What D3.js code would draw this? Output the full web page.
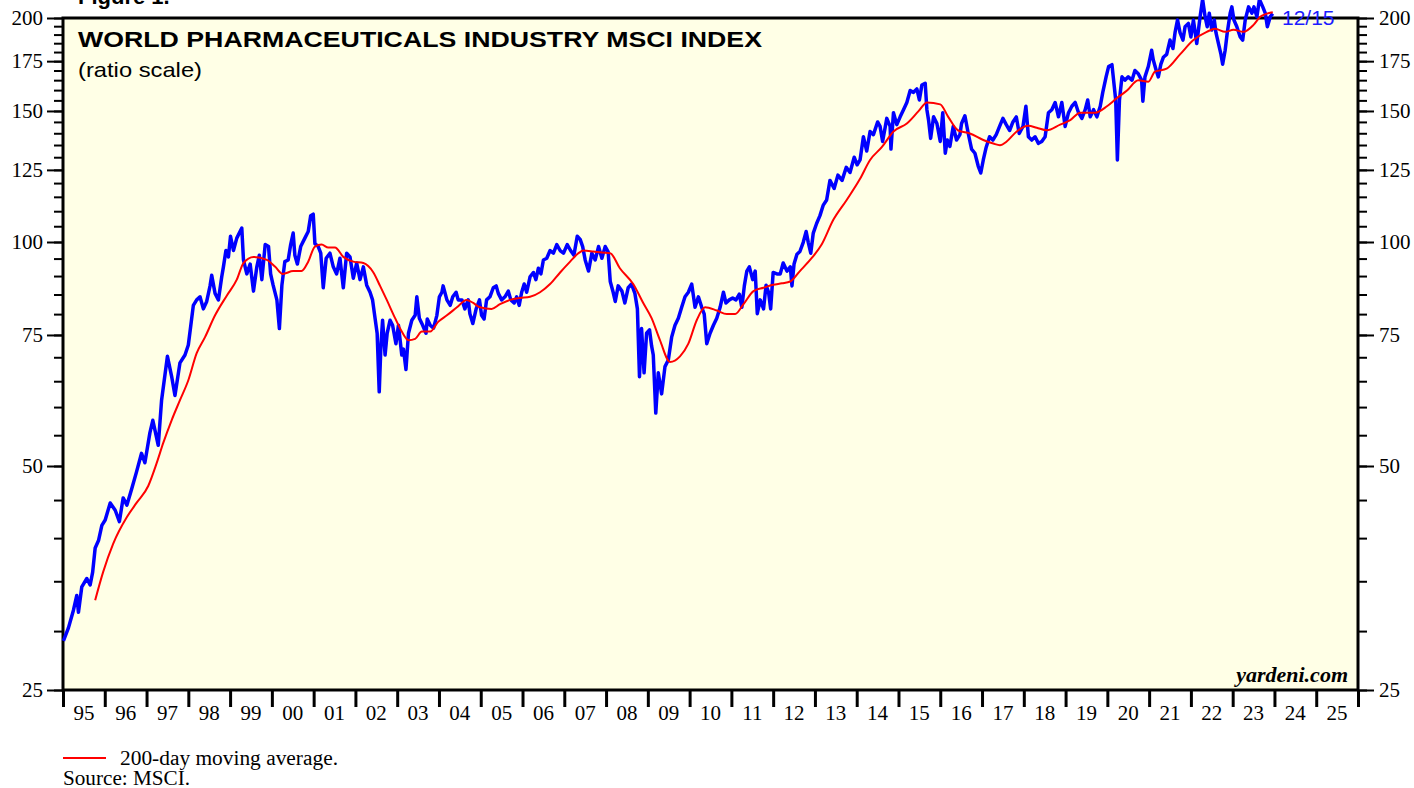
<!DOCTYPE html>
<html>
<head>
<meta charset="utf-8">
<script src="https://cdn.jsdelivr.net/npm/d3@7"></script>
<style>
  body { margin: 0; background: #fff; }
  svg { display: block; }
</style>
</head>
<body>
<div id="chart"></div>
<script>
// MSCI World Pharmaceuticals index (decimal year, value)
var priceDates = [
  1995.01,1995.13,1995.25,1995.33,1995.37,1995.45,1995.57,1995.65,1995.71,1995.77,1995.85,1995.93,
  1996.01,1996.13,1996.25,1996.35,1996.44,1996.53,1996.64,1996.76,1996.88,1996.96,
  1997.08,1997.15,1997.20,1997.28,1997.36,1997.50,1997.60,1997.68,1997.80,1997.92,
  1998.00,1998.06,1998.12,1998.20,1998.28,1998.36,1998.44,1998.52,1998.56,1998.64,1998.72,1998.80,1998.84,1998.90,1998.96,
  1999.01,1999.08,1999.16,1999.28,1999.32,1999.40,1999.48,1999.56,1999.64,1999.70,1999.76,1999.84,1999.92,1999.97,
  2000.03,2000.12,2000.18,2000.24,2000.31,2000.39,2000.45,2000.51,2000.55,2000.61,2000.69,2000.79,2000.87,2000.93,2000.99,
  2001.03,2001.11,2001.17,2001.23,2001.30,2001.39,2001.47,2001.55,2001.63,2001.71,2001.79,2001.87,2001.95,
  2002.03,2002.11,2002.19,2002.27,2002.35,2002.41,2002.47,2002.52,2002.57,2002.61,2002.65,2002.71,2002.76,2002.83,2002.89,2002.97,
  2003.03,2003.11,2003.15,2003.21,2003.27,2003.35,2003.43,2003.47,2003.53,2003.61,2003.69,2003.72,2003.79,2003.87,2003.95,
  2004.01,2004.07,2004.10,2004.19,2004.27,2004.33,2004.41,2004.46,2004.55,2004.62,2004.70,2004.74,2004.81,2004.89,2004.97,
  2005.02,2005.08,2005.14,2005.22,2005.30,2005.37,2005.42,2005.50,2005.58,2005.66,2005.72,2005.80,2005.86,2005.92,2005.98,
  2006.04,2006.10,2006.18,2006.26,2006.32,2006.38,2006.44,2006.50,2006.58,2006.66,2006.74,2006.82,2006.90,2006.98,
  2007.07,2007.15,2007.23,2007.31,2007.38,2007.44,2007.50,2007.58,2007.66,2007.74,2007.82,2007.90,2007.98,
  2008.05,2008.10,2008.17,2008.22,2008.29,2008.38,2008.45,2008.53,2008.61,2008.69,2008.75,2008.80,2008.85,2008.91,2008.97,
  2009.04,2009.09,2009.13,2009.19,2009.25,2009.33,2009.41,2009.49,2009.57,2009.65,2009.73,2009.81,2009.89,2009.97,
  2010.05,2010.13,2010.21,2010.29,2010.35,2010.41,2010.49,2010.57,2010.65,2010.73,2010.81,2010.87,2010.95,
  2011.03,2011.11,2011.19,2011.25,2011.31,2011.37,2011.43,2011.51,2011.57,2011.62,2011.69,2011.77,2011.83,2011.89,2011.94,
  2012.00,2012.09,2012.17,2012.24,2012.33,2012.41,2012.45,2012.50,2012.57,2012.64,2012.72,2012.79,2012.84,2012.90,2012.96,
  2013.04,2013.12,2013.20,2013.28,2013.36,2013.46,2013.55,2013.65,2013.75,2013.84,2013.94,
  2014.01,2014.08,2014.16,2014.24,2014.32,2014.40,2014.50,2014.56,2014.62,2014.72,2014.80,2014.82,2014.88,2014.96,
  2015.04,2015.12,2015.20,2015.28,2015.36,2015.44,2015.50,2015.56,2015.64,2015.68,2015.72,2015.77,2015.84,2015.92,
  2016.00,2016.06,2016.12,2016.17,2016.23,2016.31,2016.39,2016.47,2016.51,2016.59,2016.67,2016.75,2016.83,2016.91,2016.97,
  2017.03,2017.10,2017.18,2017.26,2017.34,2017.42,2017.50,2017.58,2017.66,2017.74,2017.82,2017.89,2017.98,
  2018.05,2018.11,2018.19,2018.27,2018.35,2018.43,2018.51,2018.59,2018.67,2018.75,2018.83,2018.91,2018.99,
  2019.07,2019.15,2019.23,2019.31,2019.39,2019.47,2019.53,2019.59,2019.67,2019.75,2019.83,2019.89,2019.97,
  2020.03,2020.11,2020.20,2020.24,2020.29,2020.35,2020.42,2020.50,2020.59,2020.66,2020.74,2020.82,2020.85,2020.90,2020.98,
  2021.06,2021.10,2021.17,2021.22,2021.28,2021.34,2021.42,2021.50,2021.57,2021.62,2021.68,2021.74,2021.81,2021.86,2021.94,
  2022.00,2022.06,2022.14,2022.22,2022.28,2022.34,2022.39,2022.44,2022.50,2022.56,2022.60,2022.66,2022.72,2022.76,2022.82,2022.87,2022.94,2022.98,
  2023.03,2023.10,2023.18,2023.24,2023.30,2023.38,2023.46,2023.51,2023.58,2023.64,2023.72,2023.78,2023.83,2023.90,2023.96
];
var priceValues = [
  29.1,30.3,32.0,33.5,31.8,34.4,35.3,34.6,36.0,38.8,39.7,41.6,
  42.3,44.6,43.6,42.1,45.3,44.3,46.5,49.1,52.0,50.5,
  55.4,57.6,55.9,53.3,61.3,70.2,66.0,62.2,68.8,70.5,
  72.7,77.3,82.2,83.6,84.4,81.3,83.2,87.3,90.2,85.3,83.6,89.8,92.6,97.4,95.5,
  101.8,97.4,101.2,104.4,94.6,90.6,93.4,85.9,92.6,96.0,89.0,99.2,98.6,90.6,
  87.5,83.6,76.5,87.5,94.1,94.6,99.2,102.8,96.0,93.4,98.6,101.2,103.3,108.5,109.0,
  99.5,98.6,96.6,86.8,95.1,96.6,92.6,90.6,95.1,86.8,96.6,95.5,89.4,
  93.7,89.0,92.6,87.5,85.6,83.6,79.0,75.4,62.9,72.5,78.5,70.5,75.4,78.5,77.3,73.0,
  77.3,70.5,71.8,67.4,75.4,78.5,79.7,84.4,79.0,77.3,75.4,78.8,77.3,76.6,79.7,
  84.4,85.6,87.3,83.6,82.2,84.4,85.6,83.6,83.6,81.3,83.6,80.1,77.7,81.3,83.6,
  79.7,78.8,83.6,84.4,86.8,87.3,85.3,83.6,84.4,85.9,83.6,82.8,84.4,82.2,85.6,
  87.8,85.6,89.8,91.0,89.0,92.2,90.6,94.6,95.1,97.4,96.6,99.2,97.4,96.6,
  99.2,97.4,96.0,101.8,100.8,98.6,94.6,91.4,96.6,94.6,98.6,95.1,98.6,
  97.0,88.5,85.6,83.2,87.3,85.9,82.8,86.8,87.8,85.3,81.3,65.9,76.5,66.7,75.4,
  76.2,72.5,70.5,58.9,66.7,62.5,68.0,69.4,74.5,77.3,79.0,81.7,84.4,85.6,
  87.8,81.7,84.4,81.7,80.0,73.0,75.4,77.3,79.0,81.7,85.6,82.8,83.6,
  84.1,83.6,85.1,81.7,87.3,91.4,92.6,89.0,91.4,80.1,83.6,81.3,87.5,85.6,81.3,
  91.0,90.6,90.6,93.7,91.4,92.6,87.3,93.4,96.3,97.1,99.9,103.3,99.9,96.6,102.8,
  105.9,108.5,112.1,113.9,121.0,118.0,123.0,121.0,126.0,124.0,130.0,
  127.0,128.9,138.5,132.5,140.8,139.4,145.0,143.0,136.5,146.6,143.0,133.3,149.2,143.8,
  147.3,150.6,154.0,159.8,158.9,160.6,155.2,162.5,163.4,150.6,145.8,137.8,147.3,144.3,
  136.5,149.2,131.6,137.1,134.4,143.0,137.1,139.4,144.3,147.8,139.9,133.3,131.6,126.4,123.8,
  128.9,134.1,138.5,137.1,139.4,143.0,146.6,143.8,141.2,145.0,147.3,139.9,143.0,
  152.2,138.5,137.1,138.5,135.7,136.5,138.5,149.2,150.6,154.0,147.3,154.0,143.0,
  149.2,152.2,154.0,149.2,146.6,150.6,155.2,147.3,150.6,147.3,152.2,158.9,166.7,
  172.1,173.1,155.2,128.9,155.2,166.7,165.0,166.7,165.0,170.0,168.3,165.0,154.6,166.7,172.1,
  181.0,175.6,170.0,166.7,173.3,177.1,178.7,186.8,182.0,191.1,198.8,191.1,186.8,194.7,196.7,
  188.6,198.8,184.8,200.8,211.9,200.8,194.7,203.0,192.7,198.8,191.1,184.8,178.7,173.3,181.0,191.1,203.0,207.0,
  198.8,194.7,188.6,186.8,198.8,207.0,203.0,207.0,200.8,211.9,207.0,203.0,194.7,200.8,202.7
];

// 200-day moving average
var maDates = [
  1995.77,1995.96,1996.20,1996.53,1996.76,1997.04,1997.24,1997.40,1997.60,1997.80,
  1998.00,1998.20,1998.40,1998.64,1998.92,1999.16,1999.32,1999.56,1999.88,
  2000.08,2000.26,2000.51,2000.71,2000.87,2001.03,2001.19,2001.35,2001.51,2001.71,2001.95,
  2002.19,2002.43,2002.59,2002.75,2002.95,2003.11,2003.27,2003.43,2003.59,2003.79,2003.98,
  2004.19,2004.43,2004.66,2004.82,2004.98,2005.26,2005.46,2005.70,2005.94,
  2006.18,2006.42,2006.66,2006.90,2007.14,2007.34,2007.46,2007.70,2007.90,
  2008.10,2008.33,2008.65,2008.89,2009.09,2009.29,2009.53,2009.77,2009.97,
  2010.17,2010.37,2010.65,2010.89,2011.09,2011.29,2011.53,2011.77,2012.00,2012.21,2012.41,2012.64,2012.92,
  2013.16,2013.44,2013.76,2014.08,2014.32,2014.60,2014.88,2015.20,2015.48,2015.68,
  2016.00,2016.19,2016.43,2016.71,2017.03,2017.27,2017.43,2017.59,2017.83,
  2018.11,2018.31,2018.55,2018.87,2019.11,2019.35,2019.71,2019.99,
  2020.23,2020.47,2020.74,2020.98,2021.14,2021.42,2021.74,2022.06,2022.38,2022.58,2022.82,
  2023.02,2023.26,2023.50,2023.66,2023.82,2023.96
];
var maValues = [
  33.0,36.0,39.3,42.7,44.6,47.0,50.4,53.7,57.6,61.3,
  65.2,70.9,74.5,79.7,84.7,89.0,93.7,95.5,94.6,
  92.6,90.6,91.4,91.4,94.1,98.6,99.2,98.3,98.3,95.5,94.1,
  93.7,91.0,87.3,83.6,79.0,75.8,73.8,74.1,75.8,75.8,78.1,
  79.7,81.7,83.6,82.8,81.7,81.3,82.5,83.6,84.1,
  84.4,85.6,87.8,91.0,94.1,96.6,97.4,97.1,96.8,
  96.6,92.2,87.8,82.8,79.0,73.8,69.0,70.2,73.0,
  78.5,81.7,80.9,80.0,80.0,82.5,85.9,86.8,87.6,88.0,88.5,91.4,95.1,
  99.2,107.1,113.9,121.6,128.9,134.1,140.8,144.3,149.9,154.0,
  153.1,147.3,141.2,139.9,137.1,135.6,134.9,136.5,140.8,
  143.3,142.4,141.3,143.8,145.8,149.2,149.2,152.2,
  156.1,159.8,165.0,164.2,169.4,171.0,178.7,186.8,191.6,193.4,191.6,
  192.8,191.6,195.8,200.8,202.7,203.6
];

var yMajor = [25, 50, 75, 100, 125, 150, 175, 200];
var yMinor = d3.range(25, 201, 5);
var yearTicks = d3.range(1995, 2027);
var yearLabels = ["95","96","97","98","99","00","01","02","03","04","05","06","07","08","09","10",
                  "11","12","13","14","15","16","17","18","19","20","21","22","23","24","25"];

var W = 1414, H = 788;
var plot = { left: 63, right: 1358, top: 18, bottom: 690 };
var serif = "'Liberation Serif', 'Times New Roman', serif";
var sans = "'Liberation Sans', Arial, sans-serif";

var svg = d3.select("#chart").append("svg")
    .attr("width", W)
    .attr("height", H);

var x = d3.scaleLinear().domain([1995, 2026]).range([plot.left, plot.right]);
var y = d3.scaleLog().domain([25, 200]).range([plot.bottom, plot.top]);

// plot background
svg.append("rect")
    .attr("x", plot.left).attr("y", plot.top)
    .attr("width", plot.right - plot.left)
    .attr("height", plot.bottom - plot.top)
    .attr("fill", "#ffffe6");

// y axes, left and right, with minor ticks every 5
function styleAxis(g) {
    g.select(".domain").remove();
    g.selectAll(".tick line").attr("stroke", "#000").attr("stroke-width", 2);
    g.selectAll(".tick text")
        .attr("font-family", serif)
        .attr("font-size", 21).attr("fill", "#000");
}

svg.append("g").attr("transform", "translate(" + plot.left + ",0)")
    .call(d3.axisLeft(y).tickValues(yMinor).tickSize(9).tickFormat(""))
    .call(styleAxis);
svg.append("g").attr("transform", "translate(" + plot.left + ",0)")
    .call(d3.axisLeft(y).tickValues(yMajor).tickSize(16).tickPadding(4).tickFormat(d3.format("d")))
    .call(styleAxis);
svg.append("g").attr("transform", "translate(" + plot.right + ",0)")
    .call(d3.axisRight(y).tickValues(yMinor).tickSize(9).tickFormat(""))
    .call(styleAxis);
svg.append("g").attr("transform", "translate(" + plot.right + ",0)")
    .call(d3.axisRight(y).tickValues(yMajor).tickSize(16).tickPadding(5).tickFormat(d3.format("d")))
    .call(styleAxis);

// x axis: year ticks at boundaries, labels in the middle of each year
svg.append("g").attr("transform", "translate(0," + plot.bottom + ")")
    .call(d3.axisBottom(x).tickValues(yearTicks).tickSize(17).tickFormat(""))
    .call(function (g) {
        g.select(".domain").remove();
        g.selectAll(".tick line").attr("stroke", "#000").attr("stroke-width", 3);
    });

svg.append("g").selectAll("text")
    .data(yearLabels)
    .enter().append("text")
    .attr("x", (d, i) => x(1995 + i + 0.5))
    .attr("y", 720)
    .attr("text-anchor", "middle")
    .attr("font-family", serif)
    .attr("font-size", 21)
    .text(d => d);

// frame
svg.append("rect")
    .attr("x", plot.left).attr("y", plot.top)
    .attr("width", plot.right - plot.left)
    .attr("height", plot.bottom - plot.top)
    .attr("fill", "none")
    .attr("stroke", "#000")
    .attr("stroke-width", 3);

// lines
var price = priceDates.map((d, i) => [d, priceValues[i]]);
var ma = maDates.map((d, i) => [d, maValues[i]]);
var line = d3.line().x(d => x(d[0])).y(d => y(d[1]));

svg.append("path")
    .datum(price)
    .attr("d", line)
    .attr("fill", "none")
    .attr("stroke", "#0000ff")
    .attr("stroke-width", 3.5)
    .attr("stroke-linejoin", "round");

svg.append("path")
    .datum(ma)
    .attr("d", line.curve(d3.curveMonotoneX))
    .attr("fill", "none")
    .attr("stroke", "#ff0000")
    .attr("stroke-width", 2);

// texts
svg.append("text")
    .attr("x", 78).attr("y", 4)
    .attr("font-family", sans)
    .attr("font-weight", "bold").attr("font-size", 22)
    .text("Figure 1.");

svg.append("text")
    .attr("x", 78).attr("y", 47)
    .attr("font-family", sans)
    .attr("font-weight", "bold").attr("font-size", 22)
    .attr("textLength", 684).attr("lengthAdjust", "spacingAndGlyphs")
    .text("WORLD PHARMACEUTICALS INDUSTRY MSCI INDEX");

svg.append("text")
    .attr("x", 78).attr("y", 77)
    .attr("font-family", sans)
    .attr("font-size", 21)
    .attr("textLength", 124).attr("lengthAdjust", "spacingAndGlyphs")
    .text("(ratio scale)");

svg.append("text")
    .attr("x", 1282).attr("y", 25)
    .attr("font-family", sans)
    .attr("font-size", 21)
    .attr("fill", "#1c1cff")
    .text("12/15");

svg.append("text")
    .attr("x", 1348).attr("y", 682)
    .attr("text-anchor", "end")
    .attr("font-family", serif)
    .attr("font-weight", "bold").attr("font-style", "italic")
    .attr("font-size", 22)
    .text("yardeni.com");

// legend and source
svg.append("line")
    .attr("x1", 63).attr("x2", 106)
    .attr("y1", 758).attr("y2", 758)
    .attr("stroke", "#ff0000").attr("stroke-width", 2);

svg.append("text")
    .attr("x", 120).attr("y", 765)
    .attr("font-family", serif)
    .attr("font-size", 20)
    .attr("textLength", 218).attr("lengthAdjust", "spacingAndGlyphs")
    .text("200-day moving average.");

svg.append("text")
    .attr("x", 63).attr("y", 785)
    .attr("font-family", serif)
    .attr("font-size", 20)
    .attr("textLength", 127).attr("lengthAdjust", "spacingAndGlyphs")
    .text("Source: MSCI.");
</script>
</body>
</html>
